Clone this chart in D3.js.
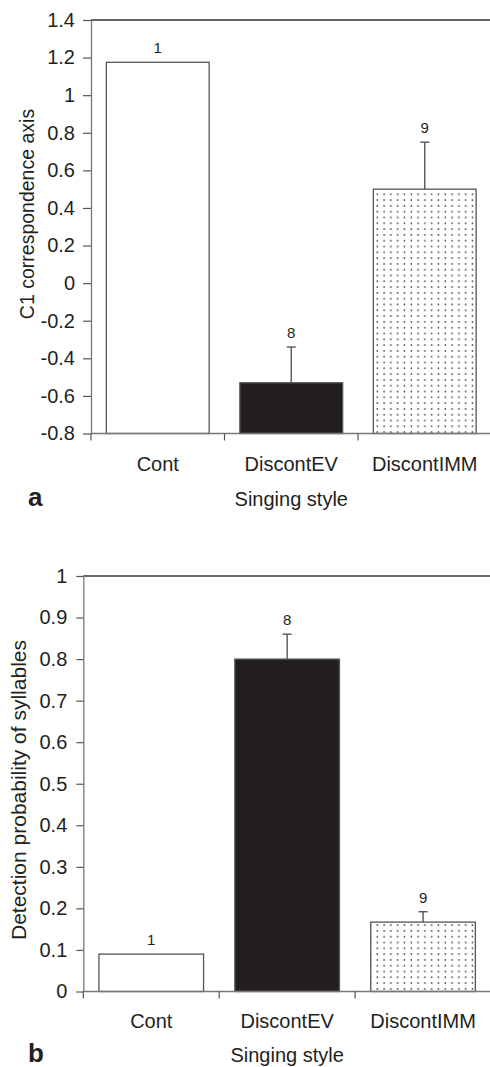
<!DOCTYPE html>
<html>
<head>
<meta charset="utf-8">
<script src="https://cdn.jsdelivr.net/npm/d3@7"></script>
<style>
  body { margin: 0; background: #fff; }
  svg { display: block; font-family: "Liberation Sans", Arial, sans-serif; }
</style>
</head>
<body>
<svg id="chart" width="490" height="1067"></svg>
<script>
// data
var categories = ["Cont", "DiscontEV", "DiscontIMM"];
var sampleSizes = [1, 8, 9];

var c1Values = [1.175, -0.53, 0.5];
var c1Errors = [0, 0.19, 0.25];
var c1Ticks = [-0.8, -0.6, -0.4, -0.2, 0, 0.2, 0.4, 0.6, 0.8, 1, 1.2, 1.4];

var detValues = [0.09, 0.8, 0.167];
var detErrors = [0, 0.06, 0.025];
var detTicks = [0, 0.1, 0.2, 0.3, 0.4, 0.5, 0.6, 0.7, 0.8, 0.9, 1];

var fills = ["#fff", "#231f20", "url(#dots)"];

var svg = d3.select("#chart");

// stipple pattern for the third bar
var pat = svg.append("defs").append("pattern")
  .attr("id", "dots")
  .attr("patternUnits", "userSpaceOnUse")
  .attr("width", 6.8)
  .attr("height", 5.8);
pat.append("rect").attr("width", 6.8).attr("height", 5.8).attr("fill", "#fff");
pat.append("rect").attr("x", 2.6).attr("y", 2.2).attr("width", 1.4).attr("height", 1.4).attr("fill", "#1a1a1a");

drawPanel({
  values: c1Values, errors: c1Errors, ticks: c1Ticks,
  domain: [-0.8, 1.4],
  x0: 91, x1: 491.5, yTop: 20, yBottom: 433.5,
  title: "C1 correspondence axis", titleX: 34, titleY: 214, titleSize: 19.5,
  tickLen: 8, tickGap: 8,
  catY: 470.7, xTitleY: 506, letter: "a", letterX: 28
});

drawPanel({
  values: detValues, errors: detErrors, ticks: detTicks,
  domain: [0, 1],
  x0: 83.3, x1: 491, yTop: 576, yBottom: 991.5,
  title: "Detection probability of syllables", titleX: 26, titleY: 790, titleSize: 21,
  tickLen: 7, tickGap: 9,
  catY: 1027.7, xTitleY: 1062, letter: "b", letterX: 28
});

function drawPanel(o) {
  var g = svg.append("g");

  var x = d3.scaleBand()
    .domain(categories)
    .range([o.x0, o.x1])
    .paddingInner(0.23)
    .paddingOuter(0.115);

  var y = d3.scaleLinear()
    .domain(o.domain)
    .range([o.yBottom, o.yTop]);

  var rows = categories.map(function(c, i) {
    return { cat: c, v: o.values[i], e: o.errors[i], n: sampleSizes[i], fill: fills[i] };
  });

  // top frame line
  g.append("line")
    .attr("x1", o.x0).attr("x2", 490)
    .attr("y1", o.yTop).attr("y2", o.yTop)
    .attr("stroke", "#333").attr("stroke-width", 1.3);

  // bars
  g.selectAll(".bar")
    .data(rows)
    .enter().append("rect")
    .attr("class", "bar")
    .attr("x", function(d) { return x(d.cat); })
    .attr("width", x.bandwidth())
    .attr("y", function(d) { return y(d.v); })
    .attr("height", function(d) { return y(o.domain[0]) - y(d.v); })
    .attr("fill", function(d) { return d.fill; })
    .attr("stroke", "#555")
    .attr("stroke-width", 1.3);

  // error bars (upper only)
  var eb = g.selectAll(".err")
    .data(rows.filter(function(d) { return d.e > 0; }))
    .enter().append("g")
    .attr("class", "err")
    .attr("stroke", "#555")
    .attr("stroke-width", 1.4);
  eb.append("line")
    .attr("x1", function(d) { return x(d.cat) + x.bandwidth() / 2; })
    .attr("x2", function(d) { return x(d.cat) + x.bandwidth() / 2; })
    .attr("y1", function(d) { return y(d.v); })
    .attr("y2", function(d) { return y(d.v + d.e); });
  eb.append("line")
    .attr("x1", function(d) { return x(d.cat) + x.bandwidth() / 2 - 4.5; })
    .attr("x2", function(d) { return x(d.cat) + x.bandwidth() / 2 + 4.5; })
    .attr("y1", function(d) { return y(d.v + d.e); })
    .attr("y2", function(d) { return y(d.v + d.e); });

  // sample sizes
  g.selectAll(".n")
    .data(rows)
    .enter().append("text")
    .attr("class", "n")
    .attr("x", function(d) { return x(d.cat) + x.bandwidth() / 2; })
    .attr("y", function(d) { return y(d.v + d.e) - 9; })
    .attr("text-anchor", "middle")
    .attr("font-size", 15)
    .attr("fill", "#231f20")
    .text(function(d) { return d.n; });

  // y axis
  var yAxis = g.append("g")
    .attr("transform", "translate(" + o.x0 + ",0)")
    .call(d3.axisLeft(y)
      .tickValues(o.ticks)
      .tickFormat(function(d) { return String(+d.toFixed(2)); })
      .tickSize(o.tickLen)
      .tickPadding(o.tickGap)
      .tickSizeOuter(0));
  yAxis.select(".domain").attr("stroke", "#777").attr("stroke-width", 1.3);
  yAxis.selectAll(".tick line").attr("stroke", "#555").attr("stroke-width", 1.2);
  yAxis.selectAll(".tick text")
    .attr("font-size", 20)
    .attr("font-family", "Liberation Sans, Arial, sans-serif")
    .attr("fill", "#231f20");

  // x axis line and boundary ticks
  g.append("line")
    .attr("x1", o.x0).attr("x2", 490)
    .attr("y1", y(o.domain[0])).attr("y2", y(o.domain[0]))
    .attr("stroke", "#777").attr("stroke-width", 1.3);
  g.selectAll(".xt")
    .data(categories)
    .enter().append("line")
    .attr("class", "xt")
    .attr("x1", function(d) { return x(d) - x.step() * x.paddingOuter(); })
    .attr("x2", function(d) { return x(d) - x.step() * x.paddingOuter(); })
    .attr("y1", y(o.domain[0]))
    .attr("y2", y(o.domain[0]) + 7)
    .attr("stroke", "#555").attr("stroke-width", 1.2);

  // category labels
  g.selectAll(".cat")
    .data(categories)
    .enter().append("text")
    .attr("class", "cat")
    .attr("x", function(d) { return x(d) + x.bandwidth() / 2; })
    .attr("y", o.catY)
    .attr("text-anchor", "middle")
    .attr("font-size", 20)
    .attr("fill", "#231f20")
    .text(function(d) { return d; });

  // axis titles
  g.append("text")
    .attr("x", (o.x0 + o.x1) / 2)
    .attr("y", o.xTitleY)
    .attr("text-anchor", "middle")
    .attr("font-size", 20)
    .attr("fill", "#231f20")
    .text("Singing style");

  g.append("text")
    .attr("transform", "translate(" + o.titleX + "," + o.titleY + ") rotate(-90)")
    .attr("text-anchor", "middle")
    .attr("font-size", o.titleSize)
    .attr("fill", "#231f20")
    .text(o.title);

  // panel letter
  g.append("text")
    .attr("x", o.letterX)
    .attr("y", o.xTitleY)
    .attr("font-size", 26)
    .attr("font-weight", "bold")
    .attr("fill", "#231f20")
    .text(o.letter);
}
</script>
</body>
</html>
